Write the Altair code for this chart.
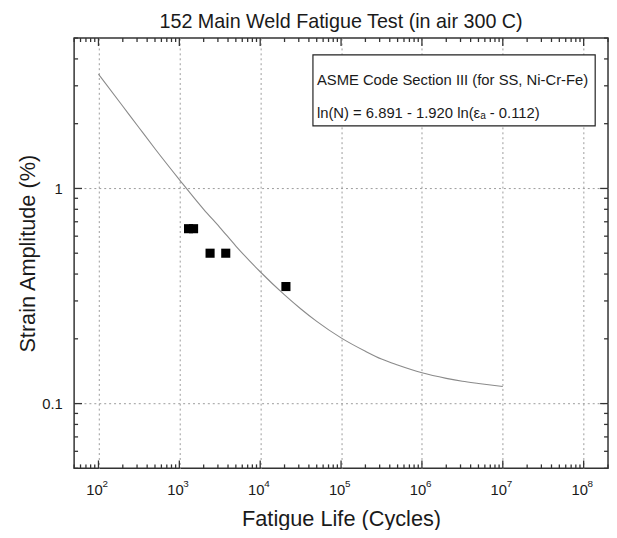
import altair as alt
import pandas as pd

# ASME curve (cycles, strain amplitude %)
curve_cycles = [100, 200, 316, 500, 1000, 2000, 3160, 5000, 10000, 20000, 31600,
                50000, 100000, 200000, 316000, 500000, 1000000, 2000000, 3160000,
                5000000, 10000000]
curve_strain = [3.40, 2.41, 1.92, 1.53, 1.10, 0.80, 0.66, 0.54, 0.41, 0.32, 0.276,
                0.241, 0.202, 0.175, 0.161, 0.151, 0.139, 0.131, 0.127, 0.124, 0.120]

# Test data
test_cycles = [1300, 1500, 2400, 3750, 20800]
test_strain = [0.65, 0.65, 0.50, 0.50, 0.35]

# Axis tick values and labels
x_major = [1e2, 1e3, 1e4, 1e5, 1e6, 1e7, 1e8]
x_exponent = ["2", "3", "4", "5", "6", "7", "8"]
x_minor = [k * 10 ** e for e in range(1, 9) for k in range(2, 10) if 50 <= k * 10 ** e <= 2e8]
y_major = [0.1, 1]
y_minor = [0.05, 0.06, 0.07, 0.08, 0.09, 0.2, 0.3, 0.4, 0.5, 0.6, 0.7, 0.8, 0.9, 2, 3, 4, 5]

title_text = "152 Main Weld Fatigue Test (in air 300 C)"
x_title = "Fatigue Life (Cycles)"
y_title = "Strain Amplitude (%)"
legend_line1 = "ASME Code Section III (for SS, Ni-Cr-Fe)"
legend_line2 = "ln(N) = 6.891 - 1.920 ln(\u03b5\u2090 - 0.112)"

W, H = 541, 436
FONT = "Liberation Sans"
INK = "#1a1a1a"

xs = alt.Scale(type="log", domain=[50, 2e8])
ys = alt.Scale(type="log", domain=[0.05, 5])

curve_df = pd.DataFrame({"x": curve_cycles, "y": curve_strain})
test_df = pd.DataFrame({"x": test_cycles, "y": test_strain})
xmaj_df = pd.DataFrame({"x": x_major, "e": x_exponent})
xmin_df = pd.DataFrame({"x": x_minor})
ymaj_df = pd.DataFrame({"y": y_major})
ymin_df = pd.DataFrame({"y": y_minor})
one = pd.DataFrame({"a": [0]})


def X():
    return alt.X("x:Q", scale=xs)


def Y():
    return alt.Y("y:Q", scale=ys)


curve = alt.Chart(curve_df).mark_line(color="#8a8a8a", strokeWidth=1.1, interpolate="monotone").encode(
    x=alt.X("x:Q", scale=xs, axis=alt.Axis(
        title=x_title, values=x_major, ticks=False, domain=False, labels=False,
        grid=True, gridDash=[2, 3], gridColor="#9a9a9a", gridWidth=1,
        titleFontSize=22, titleFontWeight="normal", titleColor=INK,
        titleBaseline="middle", titleY=51)),
    y=alt.Y("y:Q", scale=ys, axis=alt.Axis(
        title=y_title, values=y_major, ticks=False, domain=False,
        grid=True, gridDash=[2, 3], gridColor="#9a9a9a", gridWidth=1,
        format="~g", labelFontSize=15, labelPadding=12, labelColor=INK, labelFlush=False,
        titleFontSize=22, titleFontWeight="normal", titleColor=INK,
        titleBaseline="middle", titleX=-47, titleY=H / 2)),
)

points = alt.Chart(test_df).mark_square(size=85, color="black", opacity=1).encode(x=X(), y=Y())


def xticks(df, length):
    bottom = alt.Chart(df).mark_rule(color="#333", strokeWidth=1.3).encode(
        x=X(), y=alt.value(H), y2=alt.value(H - length))
    top = alt.Chart(df).mark_rule(color="#333", strokeWidth=1.3).encode(
        x=X(), y=alt.value(0), y2=alt.value(length))
    return [bottom, top]


def yticks(df, length):
    left = alt.Chart(df).mark_rule(color="#333", strokeWidth=1.3).encode(
        y=Y(), x=alt.value(0), x2=alt.value(length))
    right = alt.Chart(df).mark_rule(color="#333", strokeWidth=1.3).encode(
        y=Y(), x=alt.value(W), x2=alt.value(W - length))
    return [left, right]


ticks = xticks(xmaj_df, 8) + xticks(xmin_df, 4) + yticks(ymaj_df, 8) + yticks(ymin_df, 4)

# x tick labels "10" with superscript exponent
lab_base = alt.Chart(xmaj_df).mark_text(text="10", fontSize=15, font=FONT, color=INK,
                                        align="center", baseline="middle", dx=-4).encode(
    x=X(), y=alt.value(H + 22))
lab_exp = alt.Chart(xmaj_df).mark_text(fontSize=10, font=FONT, color=INK,
                                       align="left", baseline="middle", dx=4, dy=-6).encode(
    x=X(), y=alt.value(H + 22), text="e:N")

box = alt.Chart(one).mark_rect(fill="white", stroke="#222", strokeWidth=1.2).encode(
    x=alt.value(317 - 75), x2=alt.value(603 - 75), y=alt.value(52 - 35), y2=alt.value(124 - 35))
t1 = alt.Chart(one).mark_text(text=legend_line1, align="left", baseline="middle", fontSize=15,
                               font=FONT, color=INK).encode(x=alt.value(321 - 75), y=alt.value(78 - 35))
t2 = alt.Chart(one).mark_text(text=legend_line2, align="left", baseline="middle", fontSize=15,
                               font=FONT, color=INK).encode(x=alt.value(321 - 75), y=alt.value(111 - 35))

chart = alt.layer(curve, *ticks, lab_base, lab_exp, box, t1, t2, points).properties(
    width=W, height=H,
    title=alt.TitleParams(title_text, fontSize=20, fontWeight="normal", font=FONT,
                          anchor="middle", offset=6, color=INK),
    autosize=alt.AutoSizeParams(type="none"),
    padding={"left": 67, "top": 27, "right": 1, "bottom": 59},
).configure(font=FONT).configure_axis(labelFont=FONT, titleFont=FONT).configure_view(
    stroke="#333", strokeWidth=1.5)

chart.save("out.html", embed_options={"renderer": "svg", "actions": False})
